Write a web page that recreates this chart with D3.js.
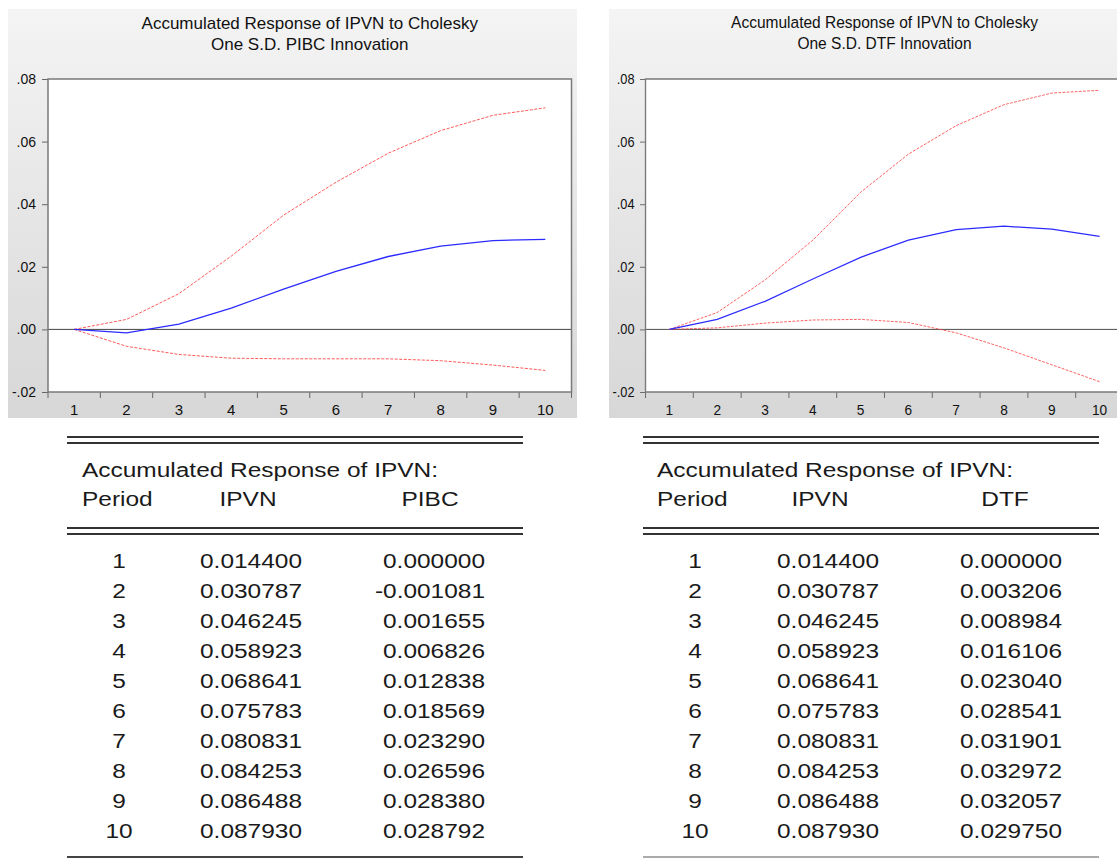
<!DOCTYPE html>
<html>
<head>
<meta charset="utf-8">
<script src="https://cdn.jsdelivr.net/npm/d3@7"></script>
<style>
  body { margin: 0; background: #fff; }
  svg { display: block; font-family: "Liberation Sans", Arial, sans-serif; }
</style>
</head>
<body>
<svg id="chart" width="1117" height="858"></svg>
<script>
// --- data ---
const periods = [1, 2, 3, 4, 5, 6, 7, 8, 9, 10];
const yTicks = [-0.02, 0, 0.02, 0.04, 0.06, 0.08];

const respIPVN = [0.014400, 0.030787, 0.046245, 0.058923, 0.068641, 0.075783, 0.080831, 0.084253, 0.086488, 0.087930];

const respPIBC  = [0.000000, -0.001081, 0.001655, 0.006826, 0.012838, 0.018569, 0.023290, 0.026596, 0.028380, 0.028792];
const upperPIBC = [0, 0.0032, 0.0114, 0.0234, 0.0365, 0.0470, 0.0563, 0.0635, 0.0684, 0.0708];
const lowerPIBC = [0, -0.0054, -0.0080, -0.0092, -0.0094, -0.0094, -0.0094, -0.0100, -0.0114, -0.0131];

const respDTF  = [0.000000, 0.003206, 0.008984, 0.016106, 0.023040, 0.028541, 0.031901, 0.032972, 0.032057, 0.029750];
const upperDTF = [0, 0.0054, 0.0158, 0.0285, 0.0438, 0.0560, 0.0651, 0.0718, 0.0755, 0.0764];
const lowerDTF = [0, 0.0005, 0.0020, 0.0030, 0.0032, 0.0022, -0.0011, -0.0059, -0.0113, -0.0167];

// guion normal en vez de signo menos unicode
const locale = d3.formatLocale({ decimal: ".", thousands: ",", grouping: [3], currency: ["", ""], minus: "-" });

const svg = d3.select("#chart");

// panel background (gris degradado tipo EViews)
const grad = svg.append("defs").append("linearGradient")
  .attr("id", "panelBg").attr("x1", 0).attr("y1", 0).attr("x2", 0).attr("y2", 1);
grad.append("stop").attr("offset", "0%").attr("stop-color", "#f4f4f4");
grad.append("stop").attr("offset", "100%").attr("stop-color", "#d7d7d7");

// --- charts ---
const PW = 569, PH = 409;
const m = { left: 40, right: 563.5, top: 70, bottom: 383 };

function drawChart(g, title2, resp, upper, lower) {
  g.append("rect").attr("width", PW).attr("height", PH).attr("fill", "url(#panelBg)");
  g.append("rect")
    .attr("x", m.left).attr("y", m.top)
    .attr("width", m.right - m.left).attr("height", m.bottom - m.top)
    .attr("fill", "#fff");

  const x = d3.scaleBand().domain(periods).range([m.left, m.right]);
  const y = d3.scaleLinear().domain([-0.02, 0.08]).range([m.bottom, m.top]);
  const cx = p => x(p) + x.bandwidth() / 2;

  // titles
  const t = g.append("text").attr("text-anchor", "middle").attr("font-size", 17).attr("fill", "#111");
  t.append("tspan").attr("x", (m.left + m.right) / 2).attr("y", 19.5).text("Accumulated Response of IPVN to Cholesky");
  t.append("tspan").attr("x", (m.left + m.right) / 2).attr("y", 40.5).text(title2);

  // y axis
  const yFmt = locale.format(".2f");
  const yAxis = g.append("g").attr("transform", `translate(${m.left},0)`)
    .call(d3.axisLeft(y).tickValues(yTicks).tickSize(6).tickPadding(6)
      .tickFormat(d => yFmt(d).replace("0.", ".")));
  yAxis.attr("font-size", 14).attr("font-family", null);
  yAxis.select(".domain").remove();
  yAxis.selectAll("line").attr("stroke", "#666");
  yAxis.selectAll("text").attr("fill", "#111");

  // x ticks at band edges, labels at centres
  const edges = periods.map(p => x(p)).concat([m.right]);
  g.append("g").selectAll("line").data(edges).join("line")
    .attr("x1", d => d).attr("x2", d => d)
    .attr("y1", m.bottom).attr("y2", m.bottom + 6)
    .attr("stroke", "#666");
  g.append("g").selectAll("text").data(periods).join("text")
    .attr("x", d => cx(d)).attr("y", 406)
    .attr("text-anchor", "middle").attr("font-size", 15).attr("fill", "#111")
    .text(d => d);

  // zero line
  g.append("line")
    .attr("x1", m.left).attr("x2", m.right)
    .attr("y1", y(0)).attr("y2", y(0))
    .attr("stroke", "#444").attr("stroke-width", 1);

  const line = d3.line().x((d, i) => cx(periods[i])).y(d => y(d));

  [upper, lower].forEach(s => {
    g.append("path").datum(s).attr("d", line)
      .attr("fill", "none").attr("stroke", "#ff3c3c").attr("stroke-opacity", 0.85)
      .attr("stroke-width", 1).attr("stroke-dasharray", "3,1.5");
  });
  g.append("path").datum(resp).attr("d", line)
    .attr("fill", "none").attr("stroke", "#2b2bff").attr("stroke-width", 1.3);

  // frame
  g.append("rect")
    .attr("x", m.left).attr("y", m.top)
    .attr("width", m.right - m.left).attr("height", m.bottom - m.top)
    .attr("fill", "none").attr("stroke", "#7a7a7a").attr("stroke-width", 1.5);
}

drawChart(svg.append("g").attr("transform", "translate(8,9)"),
  "One S.D. PIBC Innovation", respPIBC, upperPIBC, lowerPIBC);
drawChart(svg.append("g").attr("transform", "translate(609,9) scale(0.913,1)"),
  "One S.D. DTF Innovation", respDTF, upperDTF, lowerDTF);

// --- tables ---
const fmt = locale.format(".6f");
const rowY = d3.scaleLinear().domain([1, 10]).range([568, 838]);

function wideText(g, x, y, txt, anchor) {
  g.append("text")
    .attr("transform", `translate(${x},${y}) scale(1.165,1)`)
    .attr("text-anchor", anchor || "start")
    .attr("font-size", 21).attr("fill", "#1a1a1a")
    .text(txt);
}

function drawTable(cfg, vals) {
  const g = svg.append("g");
  const hline = (yy, w, c) => g.append("line")
    .attr("x1", cfg.x0).attr("x2", cfg.x1).attr("y1", yy).attr("y2", yy)
    .attr("stroke", c).attr("stroke-width", w);
  hline(437, 2, "#333"); hline(443, 2, "#333");
  hline(528, 2, "#333"); hline(534, 2, "#333");
  hline(857, 2, cfg.bottomColor);

  wideText(g, cfg.textX, 477, "Accumulated Response of IPVN:");
  wideText(g, cfg.textX, 506, "Period");
  wideText(g, cfg.hIPVN, 506, "IPVN", "middle");
  wideText(g, cfg.hB, 506, cfg.name, "middle");

  periods.forEach((p, i) => {
    const yy = rowY(p);
    wideText(g, cfg.colP, yy, String(p), "middle");
    wideText(g, cfg.colIPVN, yy, fmt(respIPVN[i]), "end");
    wideText(g, cfg.colB, yy, fmt(vals[i]), "end");
  });
}

drawTable({ x0: 67, x1: 523, textX: 82, colP: 119, colIPVN: 302, colB: 485,
  hIPVN: 248, hB: 430, name: "PIBC", bottomColor: "#444" }, respPIBC);
drawTable({ x0: 643, x1: 1099, textX: 657, colP: 695, colIPVN: 879, colB: 1062,
  hIPVN: 820, hB: 1005, name: "DTF", bottomColor: "#aaa" }, respDTF);
</script>
</body>
</html>
